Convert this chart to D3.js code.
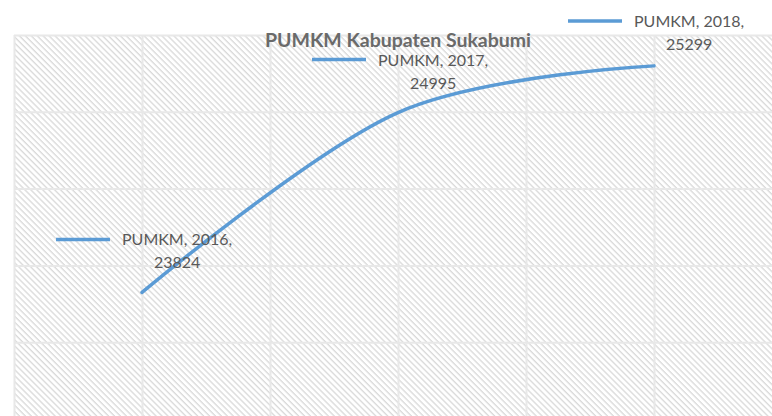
<!DOCTYPE html>
<html>
<head>
<meta charset="utf-8">
<script src="https://cdn.jsdelivr.net/npm/d3@7"></script>
<style>
  body { margin: 0; background: #fff; }
  svg { display: block; }
  .title { font-family: Lato, "Open Sans", sans-serif; font-weight: bold; font-size: 19.5px; fill: #6a6a6a; }
  .lbl { font-family: Lato, "Open Sans", sans-serif; font-size: 16px; fill: #595959; }
  .grid line { stroke: #e8e8e8; stroke-width: 2; }
  .grid path { display: none; }
</style>
</head>
<body>
<script>
// data
var seriesName = 'PUMKM';
var years = [2016, 2017, 2018];
var values = [23824, 24995, 25299];
var yTicks = [23000, 23500, 24000, 24500, 25000, 25500];
var xTicks = [2015.5, 2016, 2016.5, 2017, 2017.5, 2018, 2018.5];

var width = 772, height = 416;
var plot = { left: 14, top: 35, right: 782, bottom: 419 };

var svg = d3.select('body').append('svg')
	.attr('width', width)
	.attr('height', height);

var x = d3.scaleLinear().domain([2015.5, 2018.5]).range([plot.left, plot.right]);
var y = d3.scaleLinear().domain([23000, 25500]).range([plot.bottom, plot.top]);

// hatch fill
var defs = svg.append('defs');
var pat = defs.append('pattern')
	.attr('id', 'hatch')
	.attr('patternUnits', 'userSpaceOnUse')
	.attr('width', 4.2)
	.attr('height', 4.2)
	.attr('patternTransform', 'rotate(-45)');
pat.append('rect').attr('width', 4.2).attr('height', 4.2).attr('fill', '#fff');
pat.append('line')
	.attr('x1', 1).attr('y1', 0).attr('x2', 1).attr('y2', 4.2)
	.attr('stroke', '#d9d9d9')
	.attr('stroke-width', 1.3);

svg.append('rect')
	.attr('x', plot.left)
	.attr('y', plot.top)
	.attr('width', plot.right - plot.left)
	.attr('height', plot.bottom - plot.top)
	.attr('fill', 'url(#hatch)');

// gridlines
svg.append('g')
	.attr('class', 'grid')
	.attr('transform', 'translate(' + plot.left + ',0)')
	.call(d3.axisLeft(y).tickValues(yTicks).tickSize(-(plot.right - plot.left)).tickFormat(''));

svg.append('g')
	.attr('class', 'grid')
	.attr('transform', 'translate(0,' + plot.top + ')')
	.call(d3.axisTop(x).tickValues(xTicks).tickSize(-(plot.bottom - plot.top)).tickFormat(''));

// title
svg.append('text')
	.attr('class', 'title')
	.attr('x', 398)
	.attr('y', 47)
	.attr('text-anchor', 'middle')
	.text(seriesName + ' Kabupaten Sukabumi');

// line
var pts = years.map(function (d, i) { return [x(d), y(values[i])]; });

svg.append('path')
	.datum(pts)
	.attr('fill', 'none')
	.attr('stroke', '#5b9bd5')
	.attr('stroke-width', 3.5)
	.attr('stroke-linecap', 'round')
	.attr('d', d3.line().curve(d3.curveCardinal.tension(0)));

// data labels with legend key
pts.forEach(function (p, i) {
	var ky = Math.max(p[1] - 53, 21);
	var kx = p[0] - 86;
	var g = svg.append('g').attr('transform', 'translate(' + kx + ',' + ky + ')');

	g.append('line')
		.attr('x1', 0).attr('x2', 54)
		.attr('y1', 0).attr('y2', 0)
		.attr('stroke', '#5b9bd5')
		.attr('stroke-width', 3.5);

	var t1 = g.append('text')
		.attr('class', 'lbl')
		.attr('x', 66)
		.attr('y', 6)
		.text(seriesName + ', ' + years[i] + ',');

	var w = t1.node().getComputedTextLength();

	g.append('text')
		.attr('class', 'lbl')
		.attr('x', 66 + w / 2)
		.attr('y', 29)
		.attr('text-anchor', 'middle')
		.text(values[i]);
});
</script>
</body>
</html>
